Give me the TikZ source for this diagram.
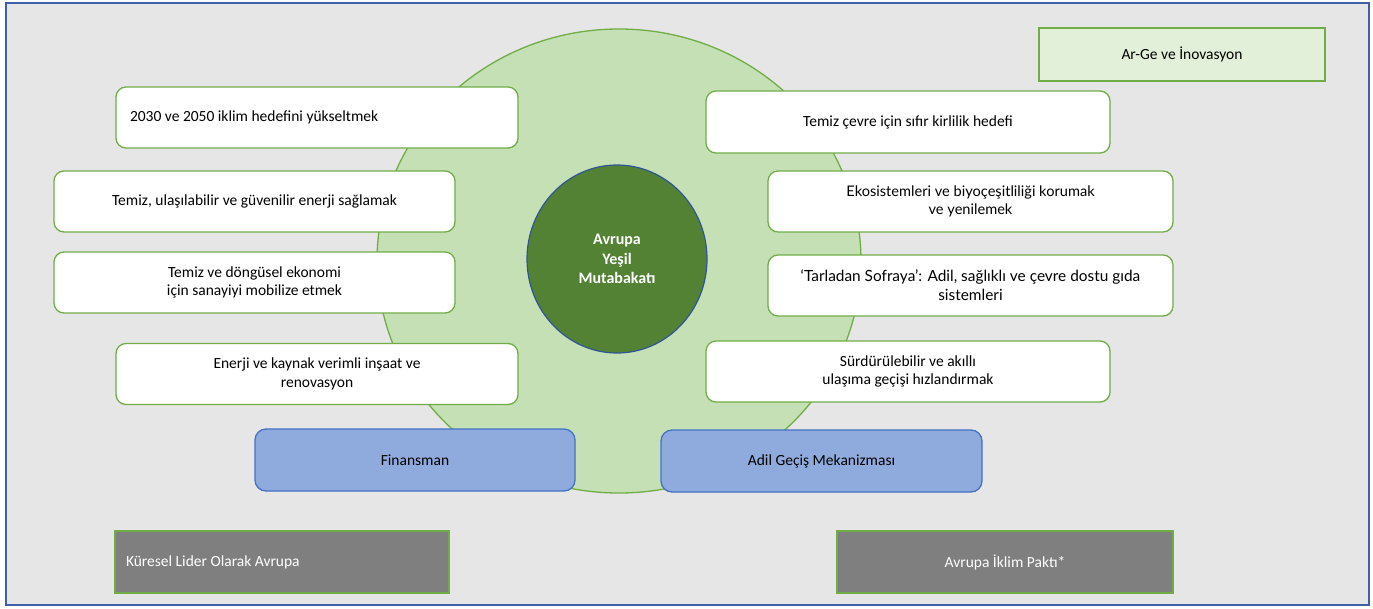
\documentclass[tikz,border=0pt]{standalone}
\usepackage{fontspec}
\setmainfont{Carlito}
\newfontfamily\latofont{Lato}
\usetikzlibrary{shapes.geometric}
\definecolor{bggray}{HTML}{E7E6E6}
\definecolor{framecol}{HTML}{3F5FA8}
\definecolor{biggreen}{HTML}{C5E0B4}
\definecolor{boxgreen}{HTML}{70AD47}
\definecolor{darkgreen}{HTML}{548235}
\definecolor{darkblue}{HTML}{2F5597}
\definecolor{bluefill}{HTML}{8FAADC}
\definecolor{blueline}{HTML}{4472C4}
\definecolor{lightgreen}{HTML}{E2F0D9}
\definecolor{grayfill}{HTML}{7F7F7F}
\tikzset{
  basefont/.style={font=\fontsize{15.5}{18.5}\selectfont},
  wbox/.style={draw=boxgreen, line width=1.3pt, fill=white, rounded corners=10pt,
    minimum height=61pt, inner sep=0pt, align=center, text=black, basefont},
  bbox/.style={draw=blueline, line width=1.3pt, fill=bluefill, rounded corners=11pt,
    minimum height=62pt, minimum width=320pt, inner sep=0pt, align=center, text=black, basefont},
  gbox/.style={draw=boxgreen, line width=1.6pt, fill=grayfill, minimum height=62pt,
    inner sep=0pt, align=center, text=white, basefont},
}
\begin{document}
\begin{tikzpicture}[x=1pt,y=-1pt]
\useasboundingbox (0,0) rectangle (1373,608);
\fill[white] (0,0) rectangle (1373,608);
\draw[framecol, line width=2pt, fill=bggray] (6,3) rectangle (1369,605);
% big circle
\node[ellipse, draw=boxgreen, line width=1.3pt, fill=biggreen, minimum width=484pt, minimum height=464pt, inner sep=0pt] (big) at (619,261) {};
% left boxes
\node[wbox, minimum width=402pt] (a) at (317,117.5) {\makebox[374pt][l]{2030 ve 2050 iklim hedefini yükseltmek}};
\node[wbox, minimum width=401pt] (b) at (254.5,201.5) {Temiz, ulaşılabilir ve güvenilir enerji sağlamak};
\node[wbox, minimum width=401pt] (c) at (254.5,282.5) {Temiz ve döngüsel ekonomi\\için sanayiyi mobilize etmek};
\node[wbox, minimum width=402pt] (d) at (317,374) {Enerji ve kaynak verimli inşaat ve\\renovasyon};
% right boxes
\node[wbox, minimum width=404pt, minimum height=62pt] (e) at (908,122) {Temiz çevre için sıfır kirlilik hedefi};
\node[wbox, minimum width=405pt, font=\latofont\fontsize{14.6}{17.5}\selectfont] (f) at (970.5,201.5) {Ekosistemleri ve biyoçeşitliliği korumak\\ve yenilemek};
\node[wbox, minimum width=405pt, font=\latofont\fontsize{15.4}{19}\selectfont] (g) at (970.5,285.5) {‘Tarladan Sofraya’: Adil, sağlıklı ve çevre dostu gıda\\sistemleri};
\node[wbox, minimum width=404pt] (h) at (908,371.5) {Sürdürülebilir ve akıllı\\ulaşıma geçişi hızlandırmak};
% blue boxes
\node[bbox] (fin) at (415,460) {Finansman};
\node[bbox, minimum width=321pt] (adil) at (821.5,461) {Adil Geçiş Mekanizması};
% top right
\node[draw=boxgreen, line width=1.6pt, fill=lightgreen, minimum width=286pt, minimum height=53pt, inner sep=0pt, basefont] (arge) at (1182,54.5) {Ar-Ge ve İnovasyon};
% gray boxes
\node[gbox, minimum width=334pt] (kuresel) at (282,562) {\makebox[312pt][l]{Küresel Lider Olarak Avrupa}};
\node[gbox, minimum width=336pt] (pakt) at (1005,562) {Avrupa İklim Paktı*};
% center
\node[ellipse, draw=darkblue, line width=1.2pt, fill=darkgreen, minimum width=180pt, minimum height=188pt, inner sep=0pt, text=white, align=center, font=\bfseries\fontsize{16}{19.5}\selectfont] (core) at (617,259) {Avrupa\\Yeşil\\Mutabakatı};
\end{tikzpicture}
\end{document}
